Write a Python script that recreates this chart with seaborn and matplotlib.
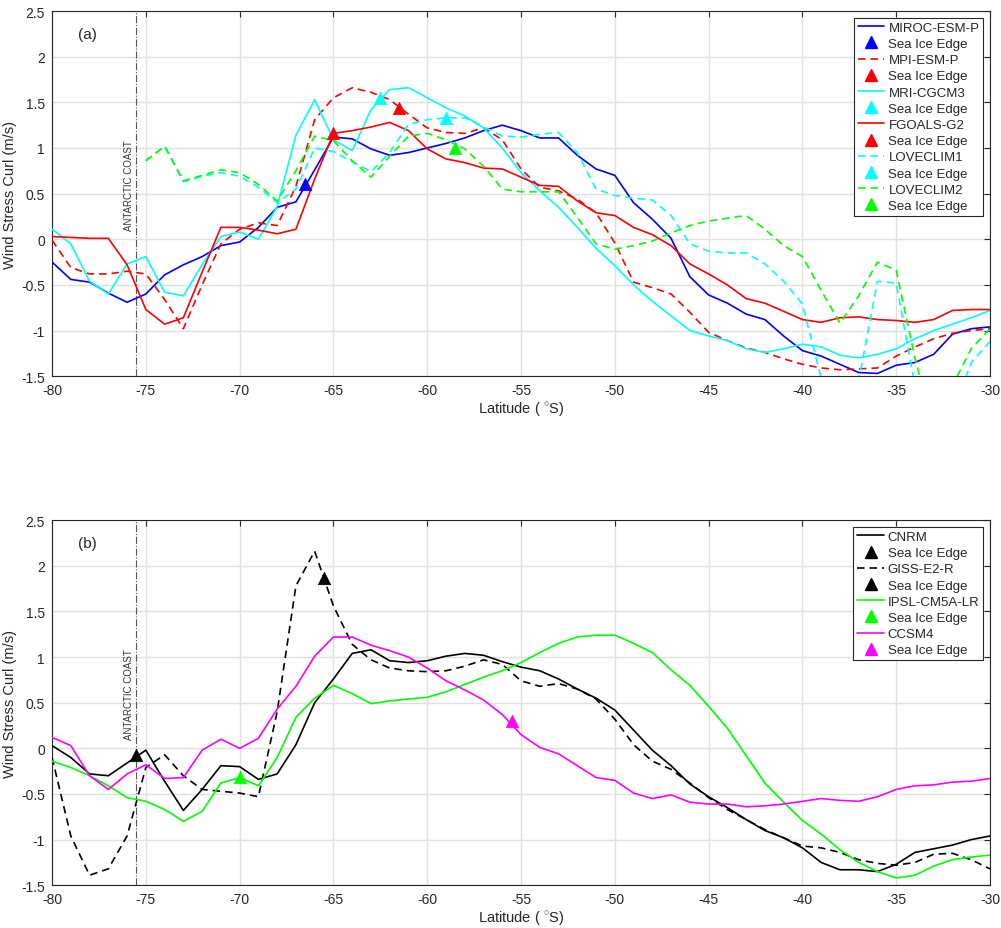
import numpy as np
import matplotlib
matplotlib.use("Agg")
import matplotlib.pyplot as plt
from matplotlib.lines import Line2D
import seaborn as sns

sns.set_theme(style="whitegrid")
plt.rcParams['font.family'] = ['Liberation Sans', 'DejaVu Sans']
plt.rcParams['axes.unicode_minus'] = False
plt.rcParams['mathtext.fontset'] = 'custom'
plt.rcParams['mathtext.rm'] = 'Liberation Sans'

# latitude grid (deg)
lat = list(range(-80, -29))
lat_love = list(range(-75, -29))

# ---- panel (a) ----
miroc = [-0.25, -0.44, -0.47, -0.59, -0.69, -0.60, -0.39, -0.28, -0.19, -0.07,
         -0.03, 0.13, 0.35, 0.41, 0.76, 1.12, 1.10, 0.99, 0.92, 0.95,
         1.00, 1.05, 1.11, 1.19, 1.25, 1.19, 1.11, 1.11, 0.92, 0.77,
         0.70, 0.40, 0.22, 0.01, -0.41, -0.61, -0.70, -0.82, -0.88, -1.06,
         -1.22, -1.28, -1.37, -1.46, -1.47, -1.38, -1.35, -1.26, -1.04, -0.98,
         -0.96]
mpi = [-0.01, -0.31, -0.38, -0.38, -0.35, -0.38, -0.66, -0.98, -0.50, -0.05,
       0.11, 0.18, 0.15, 0.58, 1.31, 1.55, 1.66, 1.61, 1.53, 1.37,
       1.22, 1.17, 1.16, 1.22, 1.09, 0.77, 0.57, 0.53, 0.44, 0.29,
       -0.04, -0.47, -0.53, -0.60, -0.80, -1.02, -1.11, -1.19, -1.24, -1.31,
       -1.37, -1.41, -1.43, -1.42, -1.41, -1.28, -1.18, -1.09, -1.03, -1.00,
       -0.98]
mri = [0.11, -0.05, -0.46, -0.60, -0.27, -0.19, -0.58, -0.62, -0.28, 0.03,
       0.08, 0.00, 0.36, 1.14, 1.53, 1.09, 0.97, 1.42, 1.64, 1.66,
       1.55, 1.44, 1.35, 1.22, 1.00, 0.73, 0.53, 0.35, 0.13, -0.10,
       -0.29, -0.50, -0.68, -0.84, -1.00, -1.06, -1.11, -1.20, -1.24, -1.20,
       -1.15, -1.18, -1.27, -1.30, -1.26, -1.20, -1.09, -1.00, -0.93, -0.86,
       -0.78]
fgoals = [0.03, 0.02, 0.01, 0.01, -0.28, -0.77, -0.93, -0.86, -0.36, 0.13,
          0.13, 0.10, 0.06, 0.11, 0.66, 1.16, 1.19, 1.23, 1.28, 1.19,
          0.99, 0.88, 0.84, 0.78, 0.77, 0.68, 0.59, 0.58, 0.42, 0.29,
          0.26, 0.13, 0.05, -0.07, -0.27, -0.38, -0.50, -0.65, -0.70, -0.79,
          -0.88, -0.91, -0.86, -0.85, -0.88, -0.89, -0.91, -0.88, -0.78, -0.77,
          -0.77]
loveclim1 = [0.86, 1.02, 0.63, 0.69, 0.73, 0.69, 0.57, 0.40, 0.55, 1.00,
             0.96, 0.85, 0.74, 0.95, 1.26, 1.31, 1.33, 1.33, 1.23, 1.13,
             1.12, 1.15, 1.17, 0.95, 0.55, 0.48, 0.45, 0.43, 0.26, -0.05,
             -0.13, -0.15, -0.15, -0.27, -0.46, -0.71, -1.52, -2.00, -1.55, -0.46,
             -0.48, -1.61, -2.00, -1.90, -1.35, -1.12]
loveclim2 = [0.86, 1.02, 0.64, 0.70, 0.76, 0.73, 0.60, 0.42, 0.75, 1.13,
             1.08, 0.86, 0.68, 0.91, 1.13, 1.16, 1.09, 0.99, 0.80, 0.55,
             0.52, 0.52, 0.52, 0.24, -0.05, -0.11, -0.07, -0.02, 0.07, 0.15,
             0.20, 0.23, 0.26, 0.11, -0.07, -0.19, -0.56, -0.92, -0.62, -0.25,
             -0.34, -1.30, -2.10, -1.60, -1.20, -0.98]

# sea ice edge markers (a)
ice_lat_a = [-66.5, -61.5, -62.5, -65.0, -59.0, -58.5]
ice_val_a = [0.60, 1.44, 1.55, 1.16, 1.33, 1.00]

# ---- panel (b) ----
cnrm = [0.03, -0.10, -0.28, -0.30, -0.16, -0.02, -0.36, -0.68, -0.45, -0.19,
        -0.20, -0.34, -0.28, 0.04, 0.50, 0.76, 1.04, 1.08, 0.96, 0.94,
        0.96, 1.01, 1.04, 1.02, 0.95, 0.89, 0.85, 0.76, 0.65, 0.55,
        0.42, 0.20, -0.02, -0.19, -0.39, -0.53, -0.65, -0.78, -0.90, -0.98,
        -1.09, -1.25, -1.33, -1.33, -1.35, -1.27, -1.14, -1.10, -1.06, -1.00,
        -0.96]
giss = [-0.10, -0.96, -1.39, -1.32, -0.96, -0.21, -0.07, -0.30, -0.45, -0.47,
        -0.49, -0.53, 0.40, 1.78, 2.16, 1.56, 1.14, 0.97, 0.88, 0.85,
        0.84, 0.85, 0.90, 0.97, 0.92, 0.74, 0.68, 0.71, 0.65, 0.54,
        0.32, 0.04, -0.14, -0.23, -0.38, -0.54, -0.67, -0.78, -0.89, -0.98,
        -1.07, -1.09, -1.14, -1.22, -1.26, -1.28, -1.25, -1.16, -1.15, -1.22,
        -1.32]
ipsl = [-0.14, -0.21, -0.30, -0.41, -0.54, -0.58, -0.67, -0.80, -0.69, -0.38,
        -0.32, -0.41, -0.10, 0.34, 0.55, 0.69, 0.60, 0.49, 0.52, 0.54,
        0.56, 0.62, 0.70, 0.78, 0.85, 0.94, 1.05, 1.15, 1.22, 1.24,
        1.24, 1.15, 1.05, 0.86, 0.69, 0.46, 0.22, -0.08, -0.38, -0.59,
        -0.79, -0.94, -1.11, -1.25, -1.35, -1.42, -1.39, -1.29, -1.22, -1.19,
        -1.17]
ccsm4 = [0.12, 0.03, -0.30, -0.45, -0.28, -0.18, -0.33, -0.32, -0.02, 0.10,
         0.00, 0.11, 0.43, 0.68, 1.01, 1.22, 1.22, 1.13, 1.07, 1.00,
         0.88, 0.74, 0.64, 0.53, 0.37, 0.15, 0.01, -0.06, -0.19, -0.32,
         -0.35, -0.49, -0.55, -0.51, -0.59, -0.61, -0.61, -0.64, -0.63, -0.61,
         -0.58, -0.55, -0.57, -0.58, -0.53, -0.45, -0.41, -0.40, -0.37, -0.36,
         -0.33]

# sea ice edge markers (b)
ice_lat_b = [-75.5, -65.5, -70.0, -55.5]
ice_val_b = [-0.07, 1.87, -0.31, 0.30]

coast_lat = -75.5

BLUE, RED, CYAN, GREEN = (0, 0, 1), (1, 0, 0), (0, 1, 1), (0, 1, 0)
MAG, BLACK = (1, 0, 1), (0, 0, 0)
DASH = (0, (4.5, 3))
LW = 1.2

series_a = [
    ("MIROC-ESM-P", lat, miroc, BLUE, "-"),
    ("MPI-ESM-P", lat, mpi, RED, DASH),
    ("MRI-CGCM3", lat, mri, CYAN, "-"),
    ("FGOALS-G2", lat, fgoals, RED, "-"),
    ("LOVECLIM1", lat_love, loveclim1, CYAN, DASH),
    ("LOVECLIM2", lat_love, loveclim2, GREEN, DASH),
]
ice_col_a = [BLUE, RED, CYAN, RED, CYAN, GREEN]

series_b = [
    ("CNRM", lat, cnrm, BLACK, "-"),
    ("GISS-E2-R", lat, giss, BLACK, DASH),
    ("IPSL-CM5A-LR", lat, ipsl, GREEN, "-"),
    ("CCSM4", lat, ccsm4, MAG, "-"),
]
ice_col_b = [BLACK, BLACK, GREEN, MAG]

fig = plt.figure(figsize=(10.01, 9.29), dpi=100)
ax_a = fig.add_axes([0.052, 0.594, 0.937, 0.393])
ax_b = fig.add_axes([0.052, 0.046, 0.937, 0.393])


def style_axes(ax, tag):
    ax.set_xlim(-80, -30)
    ax.set_ylim(-1.5, 2.5)
    ax.set_xticks(np.arange(-80, -29, 5))
    ax.set_yticks(np.arange(-1.5, 2.51, 0.5))
    ax.set_yticklabels(["%g" % v for v in np.arange(-1.5, 2.51, 0.5)])
    ax.set_xticklabels(["%d" % v for v in np.arange(-80, -29, 5)])
    ax.grid(True, color="#e0e0e0", linewidth=1.0)
    ax.set_facecolor("white")
    for s in ax.spines.values():
        s.set_color("#262626")
        s.set_linewidth(0.8)
    ax.tick_params(direction="in", length=4, width=0.8, colors="#262626",
                   labelsize=10, top=True, right=True, pad=5)
    ax.set_xlabel("Latitude ( $^{\\circ}$S)", fontsize=10.5, color="#262626", labelpad=2)
    ax.set_ylabel("Wind Stress Curl (m/s)", fontsize=10.5, color="#262626", labelpad=3)
    ax.axvline(coast_lat, color="#555555", linestyle="-.", linewidth=0.8, zorder=1)
    ax.text(coast_lat - 0.15, 0.1, "ANTARCTIC COAST", rotation=90, fontsize=7,
            color="#333333", ha="right", va="bottom")
    ax.text(-78.6, 2.25, tag, fontsize=11, color="#262626", ha="left", va="center")


def draw(ax, series, ice_lat, ice_val, ice_col):
    handles = []
    for i, (name, x, y, c, ls) in enumerate(series):
        sns.lineplot(x=x, y=y, color=c, linestyle=ls, linewidth=LW, ax=ax,
                     estimator=None, sort=False, zorder=3)
        sns.scatterplot(x=[ice_lat[i]], y=[ice_val[i]], marker="^", s=80,
                        color=ice_col[i], edgecolor=ice_col[i], linewidth=0.5,
                        ax=ax, zorder=4)
        handles.append(Line2D([], [], color=c, linestyle=ls, linewidth=LW, label=name))
        handles.append(Line2D([], [], color=ice_col[i], linestyle="none", marker="^",
                              markersize=9, label="Sea Ice Edge"))
    leg = ax.legend(handles=handles, loc="upper right", fontsize=9.5, frameon=True,
                    fancybox=False, edgecolor="#262626", framealpha=1,
                    handlelength=2.0, handletextpad=0.3, labelspacing=0.3,
                    borderpad=0.3, borderaxespad=0.5)
    leg.get_frame().set_linewidth(0.8)


draw(ax_a, series_a, ice_lat_a, ice_val_a, ice_col_a)
style_axes(ax_a, "(a)")
draw(ax_b, series_b, ice_lat_b, ice_val_b, ice_col_b)
style_axes(ax_b, "(b)")

fig.savefig("out.png", dpi=100, facecolor="white")
